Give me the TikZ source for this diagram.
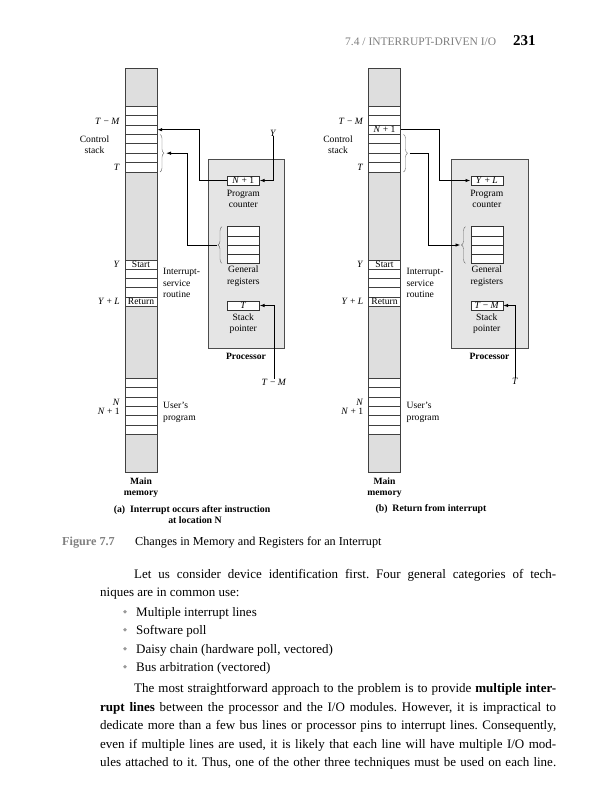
\documentclass[tikz,border=0pt]{standalone}
\usepackage{fontspec}
\setmainfont{Liberation Serif}
\usetikzlibrary{arrows.meta,decorations.pathreplacing}
\frenchspacing
\definecolor{memgray}{gray}{0.87}
\definecolor{procgray}{gray}{0.9}
\definecolor{capgray}{gray}{0.5}
\newcommand\dfont{\fontsize{9.6}{11.5}\selectfont}
\newcommand\bodyfont{\fontsize{13}{18}\selectfont}
\newcommand\vi[1]{\textit{#1}}
\tikzset{
 lbl/.style={font=\dfont, inner sep=0pt},
 mem/.style={draw=black!75, fill=memgray, line width=0.6pt},
 cellrow/.style={draw=black!75, fill=white, line width=0.5pt},
 regbox/.style={draw=black!80, fill=white, line width=0.6pt, minimum width=32pt, minimum height=9pt, inner sep=0pt, font=\dfont},
 proc/.style={draw=black!70, fill=procgray, line width=0.6pt, inner sep=0pt},
 conn/.style={draw=black, line width=0.9pt, -{Latex[length=5pt,width=3.5pt]}},
 brc/.style={draw=black!60, line width=0.4pt, decorate, decoration={brace, amplitude=4pt}},
 body/.style={font=\bodyfont, inner sep=0pt, anchor=base west},
 bul/.style={circle, fill=black!40, inner sep=0pt, minimum size=3.6pt},
}
\newcommand\figpanel[5]{%
\begin{scope}[xshift=#2]
 \draw[mem] (125,68) rectangle (157,472);
 \foreach \i in {0,...,6}{\draw[cellrow] (125,{106+9.43*\i}) rectangle (157,{106+9.43*(\i+1)});}
 \foreach \i in {0,...,4}{\draw[cellrow] (125,{260+9.2*\i}) rectangle (157,{260+9.2*(\i+1)});}
 \foreach \i in {0,...,5}{\draw[cellrow] (125,{378+9.4*\i}) rectangle (157,{378+9.4*(\i+1)});}
 \node[lbl, minimum width=32pt, minimum height=9.43pt] (stk#1) at (141,129.72) {#5};
 \node[lbl] (st#1) at (141,264.6) {Start};
 \node[lbl] (rt#1) at (141,301.4) {Return};
 \draw[brc] (160,134.4) -- (160,172);
 \coordinate (cs#1) at (166,153.2);
 \node[lbl, anchor=east] at (120,121) {\vi{T} − \vi{M}};
 \node[lbl, align=center] at (94.5,144.5) {Control\\stack};
 \node[lbl, anchor=east] at (120,167.3) {\vi{T}};
 \node[lbl, anchor=east] at (120,264) {\vi{Y}};
 \node[lbl, anchor=east] at (120,301) {\vi{Y} + \vi{L}};
 \node[lbl, anchor=west, align=left] at (163,283) {Interrupt-\\service\\routine};
 \node[lbl, anchor=east] at (120,402) {\vi{N}};
 \node[lbl, anchor=east] at (120,411) {\vi{N} + 1};
 \node[lbl, anchor=west, align=left] at (163,412.5) {User’s\\program};
 \node[lbl, align=center, font=\dfont\bfseries] at (141,487.5) {Main\\memory};
 \node[proc, minimum width=76.6pt, minimum height=188.7pt, anchor=north west] (proc#1) at (207.7,159) {};
 \node[regbox] (pc#1) at (243.3,180.5) {#3};
 \node[lbl, align=center] at (243.3,199) {Program\\counter};
 \node[regbox, minimum height=36.6pt] (gr#1) at (243.3,245) {};
 \foreach \i in {1,2,3}{\draw[black!80, line width=0.5pt] (227.3,{226.7+9.15*\i}) -- (259.3,{226.7+9.15*\i});}
 \draw[brc] (222,263.3) -- (222,226.7);
 \coordinate (gb#1) at (217,245);
 \node[lbl, align=center] at (243.3,276) {General\\registers};
 \node[regbox] (sp#1) at (243.3,305.5) {#4};
 \node[lbl, align=center] at (243.3,323.5) {Stack\\pointer};
 \node[lbl, font=\dfont\bfseries] at (246,356) {Processor};
\end{scope}}
\begin{document}
\begin{tikzpicture}[x=1pt,y=-1pt]
\useasboundingbox (0,0) rectangle (604,800);
\fill[white] (0,0) rectangle (604,800);
% header
\node[body, font=\fontsize{11.5}{13}\selectfont, text=capgray] at (345,46) {7.4 / INTERRUPT-DRIVEN I/O};
\node[body, font=\fontsize{15}{17}\selectfont\bfseries] at (513,46) {231};
% panels
\figpanel{a}{0pt}{\vi{N} + 1}{\vi{T}}{}
\figpanel{b}{243.5pt}{\vi{Y} + \vi{L}}{\vi{T} − \vi{M}}{\vi{N} + 1}
% panel a connectors
\draw[conn] (pca.west) -- ++(-27.3,0) |- (stka.east);
\draw[conn] (gba) -- ++(-29.3,0) |- (csa);
\node[lbl] (ylab) at (273.3,133) {\vi{Y}};
\draw[conn] (ylab.south) |- (pca.east);
\node[lbl] (tmlab) at (274,382) {\vi{T} − \vi{M}};
\draw[conn] (tmlab.north) |- (spa.east);
% panel b connectors
\draw[conn] (stkb.east) -- ++(39,0) |- (pcb.west);
\draw[conn] (csb) -- ++(19,0) |- (gbb);
\node[lbl] (tlab) at (515,381) {\vi{T}};
\draw[conn] (tlab.north) |- (spb.east);
% sub-captions
\node[lbl, align=center, font=\fontsize{9.8}{11.5}\selectfont\bfseries] at (192,514.5) {(a)\ \ Interrupt occurs after instruction\\\hspace*{6pt}at location N};
\node[lbl, font=\fontsize{9.8}{11.5}\selectfont\bfseries] at (431,509) {(b)\ \ Return from interrupt};
% figure caption
\node[body, font=\fontsize{12.2}{14}\selectfont\bfseries, text=capgray] at (62,545) {Figure 7.7};
\node[body, font=\fontsize{12.2}{14}\selectfont] at (135,545) {Changes in Memory and Registers for an Interrupt};
% body text
\node[body] at (134,578) {\makebox[422pt][s]{Let us consider device identification first. Four general categories of tech-}};
\node[body] at (100,596) {niques are in common use:};
\foreach \yy/\tx in {616/{Multiple interrupt lines},634/{Software poll},653/{Daisy chain (hardware poll, vectored)},671/{Bus arbitration (vectored)}}{
 \node[bul] at (125,\yy-4.3) {};
 \node[body] at (136,\yy) {\tx};
}
\node[body] at (134,692) {\makebox[422pt][s]{The most straightforward approach to the problem is to provide \textbf{multiple inter-}}};
\node[body] at (100,711) {\makebox[456pt][s]{\textbf{rupt lines} between the processor and the I/O modules. However, it is impractical to}};
\node[body] at (100,729) {\makebox[456pt][s]{dedicate more than a few bus lines or processor pins to interrupt lines. Consequently,}};
\node[body] at (100,748) {\makebox[456pt][s]{even if multiple lines are used, it is likely that each line will have multiple I/O mod-}};
\node[body] at (100,766) {\makebox[456pt][s]{ules attached to it. Thus, one of the other three techniques must be used on each line.}};
\end{tikzpicture}
\end{document}
